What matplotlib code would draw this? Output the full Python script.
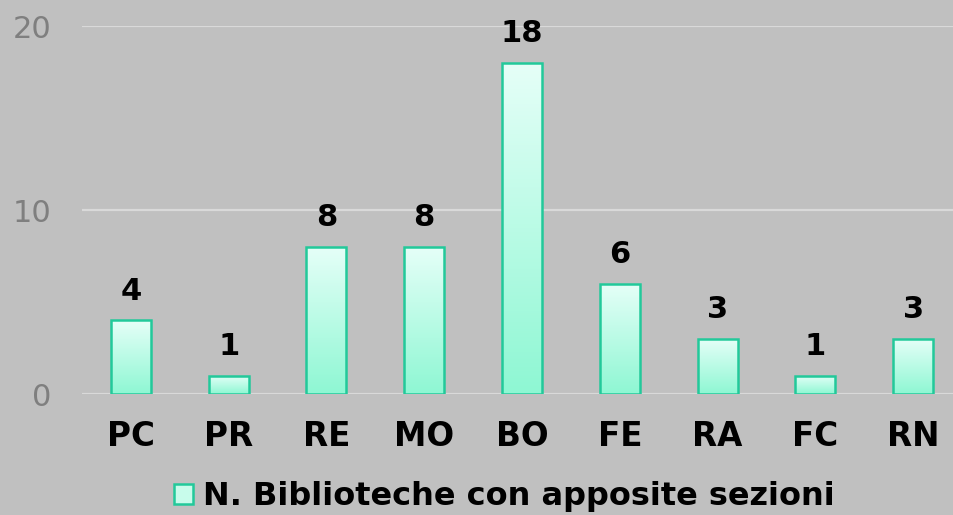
import numpy as np
import matplotlib
matplotlib.use("Agg")
from matplotlib import pyplot as plt
from matplotlib.colors import LinearSegmentedColormap
from matplotlib.patches import Patch

# data
province = ['PC', 'PR', 'RE', 'MO', 'BO', 'FE', 'RA', 'FC', 'RN']
n_biblioteche = [4, 1, 8, 8, 18, 6, 3, 1, 3]
legend_label = 'N. Biblioteche con apposite sezioni'
yticks = [0, 10, 20]

bg = '#C0C0C0'
edge = '#22C99A'
grad = LinearSegmentedColormap.from_list('g', ['#8EF7D3', '#E6FFF8'])

fig = plt.figure(figsize=(9.54, 5.15), dpi=100, facecolor=bg)
ax = fig.add_axes([82 / 954, 121 / 515, 880 / 954, 368 / 515])
ax.set_facecolor(bg)

x = np.arange(len(province))
bars = ax.bar(x, n_biblioteche, width=0.41, color='none', edgecolor=edge,
              linewidth=1.8, zorder=3)

# gradient fill, white at the top to aquamarine at the bottom
g = np.linspace(0, 1, 256).reshape(-1, 1)
for b in bars:
    im = ax.imshow(g, cmap=grad, origin='lower', aspect='auto', zorder=2,
                   extent=[b.get_x(), b.get_x() + b.get_width(), 0, b.get_height()])
    im.set_clip_path(b)

for xi, v in zip(x, n_biblioteche):
    ax.annotate(str(v), (xi, v), xytext=(0, 10.5), textcoords='offset points',
                ha='center', va='bottom', fontsize=22, fontweight='bold', color='black')

ax.set_xlim(-0.5, len(province) - 0.5)
ax.set_ylim(0, 20)
ax.set_yticks(yticks)
ax.set_xticks(x)
ax.set_xticklabels(province, fontsize=23.5, fontweight='bold')
ax.tick_params(axis='x', length=0, pad=19, colors='black')
ax.tick_params(axis='y', length=0, pad=22, labelsize=22, labelcolor='#7F7F7F')
for lab in ax.get_yticklabels():
    lab.set_horizontalalignment('right')
ax.yaxis.grid(True, color='#D9D9D9', linewidth=1.6, zorder=0)
ax.set_axisbelow(True)
for s in ax.spines.values():
    s.set_visible(False)

handle = Patch(facecolor='#C8FCEB', edgecolor=edge, linewidth=1.8)
fig.legend([handle], [legend_label], loc='center', bbox_to_anchor=(504 / 954, 18 / 515),
           frameon=False, prop={'size': 23, 'weight': 'bold'},
           handlelength=0.6, handleheight=0.6, handletextpad=0.31, borderpad=0)

fig.savefig('out.png', dpi=100, facecolor=bg)
